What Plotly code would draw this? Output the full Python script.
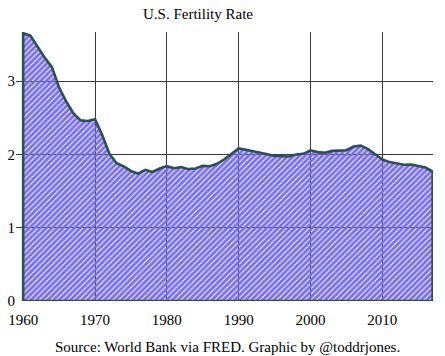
import plotly.graph_objects as go

years = list(range(1960, 2018))
fertility = [3.654, 3.620, 3.461, 3.319, 3.190, 2.913, 2.721, 2.558, 2.464, 2.456,
             2.480, 2.266, 2.010, 1.879, 1.835, 1.774, 1.738, 1.790, 1.760, 1.808,
             1.840, 1.812, 1.828, 1.799, 1.807, 1.844, 1.838, 1.872, 1.934, 2.014,
             2.081, 2.063, 2.046, 2.020, 2.002, 1.978, 1.976, 1.971, 1.999, 2.008,
             2.056, 2.031, 2.021, 2.048, 2.052, 2.057, 2.108, 2.120, 2.072, 2.002,
             1.931, 1.895, 1.881, 1.858, 1.863, 1.844, 1.821, 1.766]
x_ticks = [1960, 1970, 1980, 1990, 2000, 2010]
y_ticks = [0, 1, 2, 3]
title_text = "U.S. Fertility Rate"
caption_text = "Source: World Bank via FRED. Graphic by @toddrjones."

# closed outline: baseline -> data -> baseline -> back to start
xs = [years[0]] + years + [years[-1], years[0]]
ys = [0] + fertility + [0, 0]

W, H = 445, 356
ml, mr, mt, mb = 16, 12, 32, 55

fig = go.Figure()
fig.add_trace(go.Scatter(
    x=xs, y=ys, mode="lines", fill="toself",
    fillcolor="rgba(0,0,0,0)",
    fillpattern=dict(shape="/", fgcolor="#7266ec", bgcolor="rgba(255,255,255,0)",
                     size=4, solidity=0.75, fgopacity=0.95),
    line=dict(color="#2f4f4f", width=2.6),
    hoverinfo="skip", showlegend=False,
))

font = "Liberation Serif, Times New Roman, serif"
fig.update_layout(
    width=W, height=H,
    margin=dict(l=ml, r=mr, t=mt, b=mb, autoexpand=False),
    paper_bgcolor="white", plot_bgcolor="white",
    font=dict(family=font, size=15, color="black"),
    title=dict(text=title_text, x=198 / W, xref="container", xanchor="center",
               y=1 - 14 / H, yref="container", yanchor="middle",
               font=dict(family=font, size=15, color="black")),
    xaxis=dict(range=[1959, 2017.05], tickvals=x_ticks, showgrid=True, automargin=False,
               gridcolor="#3a3a3a", gridwidth=1.4, zeroline=False, showline=False,
               ticks="", ticklabelstandoff=8,
               tickfont=dict(family=font, size=15, color="black")),
    yaxis=dict(range=[0, 3.67], tickvals=y_ticks, showgrid=True, automargin=False,
               gridcolor="#3a3a3a", gridwidth=1.4, zeroline=False, showline=False,
               ticks="", ticklabelstandoff=0,
               tickfont=dict(family=font, size=15, color="black")),
    annotations=[dict(text=caption_text, xref="paper", yref="paper",
                      x=(228 - ml) / (W - ml - mr), y=-(347 - (H - mb)) / (H - mt - mb),
                      xanchor="center", yanchor="middle", showarrow=False,
                      font=dict(family=font, size=15, color="black"))],
)

fig.write_html("out.html", config={"displayModeBar": False},
               post_script="document.body.style.margin='0';")
